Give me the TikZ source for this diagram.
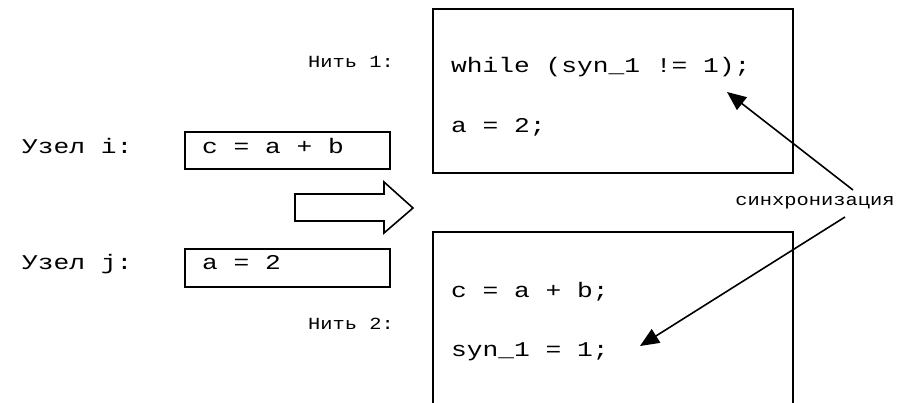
\documentclass[tikz,border=0pt]{standalone}
\usepackage{fontspec}
\newfontfamily\codefont[FakeStretch=1.25]{Liberation Mono}
\newfontfamily\smallfont[FakeStretch=1.2]{Liberation Mono}
\usetikzlibrary{arrows.meta}
\tikzset{
  frame/.style={draw, line width=1.6pt, inner sep=0pt, rectangle},
  code/.style={font=\codefont\fontsize{21}{25}\selectfont, inner sep=0pt},
  lbl/.style={font=\smallfont\fontsize{17}{20}\selectfont, inner sep=0pt},
  syncarrow/.style={line width=1.6pt, -{Triangle[length=19pt,width=16pt]}},
}
\begin{document}
\begin{tikzpicture}[x=1pt,y=-1pt]
\useasboundingbox (0,0) rectangle (913,402);
\clip (0,0) rectangle (913,402);
\fill[white] (0,0) rectangle (913,402);
% thread boxes
\node[frame, minimum width=360pt, minimum height=164pt, anchor=north west] (box1) at (432,8) {};
\node[frame, minimum width=360pt, minimum height=200pt, anchor=north west] (box2) at (432,231) {};
% node boxes
\node[frame, minimum width=205pt, minimum height=37pt, anchor=north west] (nodei) at (184,131) {};
\node[frame, minimum width=205pt, minimum height=38pt, anchor=north west] (nodej) at (184,248) {};
% texts
\node[code, anchor=base west] (ti) at (22,153) {Узел i:};
\node[code, anchor=base west] (tj) at (22,269) {Узел j:};
\node[code, anchor=base west] (ci) at (202,153) {c = a + b};
\node[code, anchor=base west] (cj) at (202,269) {a = 2};
\node[lbl, anchor=base east] (n1) at (394,67) {Нить 1:};
\node[lbl, anchor=base east] (n2) at (394,329) {Нить 2:};
\node[code, anchor=base west] (w1) at (451,72) {while (syn\_1 != 1);};
\node[code, anchor=base west] (w2) at (451,132) {a = 2;};
\node[code, anchor=base west] (w3) at (451,297) {c = a + b;};
\node[code, anchor=base west] (w4) at (451,356) {syn\_1 = 1;};
\node[lbl, anchor=base] (sync) at (815,205) {синхронизация};
% block arrow
\draw[line width=1.6pt, line join=miter] (295,194) -- (384,194) -- (384,182) -- (413,208) -- (384,233) -- (384,221) -- (295,221) -- cycle;
% sync arrows
\coordinate (s1) at (853,190);
\coordinate (t1) at (727,92);
\coordinate (s2) at (845,217);
\coordinate (t2) at (640,346);
\draw[syncarrow] (s1) -- (t1);
\draw[syncarrow] (s2) -- (t2);
\end{tikzpicture}
\end{document}
